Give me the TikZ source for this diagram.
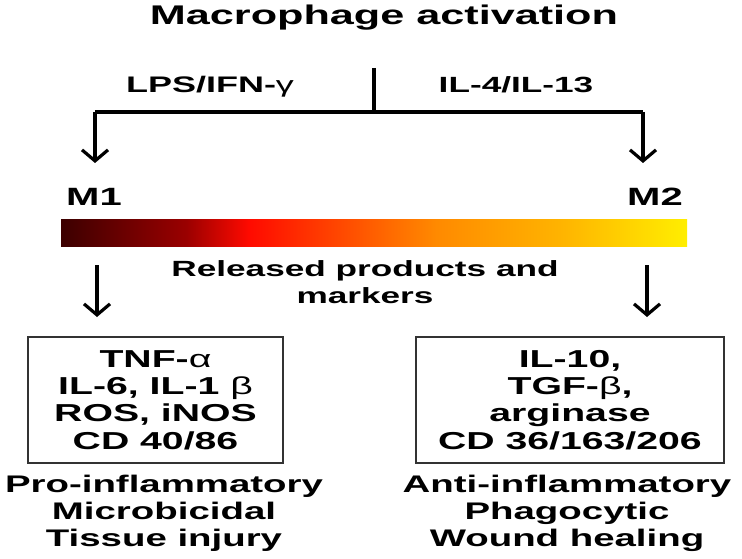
\documentclass[tikz,border=0pt]{standalone}
\usepackage{fontspec}
\setmainfont{Liberation Sans}[FakeStretch=1.6]
\usepackage{tikz}
\usetikzlibrary{arrows.meta}
\usetikzlibrary{positioning}
\definecolor{barA}{HTML}{3C0000}
\definecolor{barB}{HTML}{9A0000}
\definecolor{barC}{HTML}{FF0A00}
\definecolor{barD}{HTML}{FF4A00}
\definecolor{barE}{HTML}{FF8A00}
\definecolor{barF}{HTML}{FFB400}
\definecolor{barG}{HTML}{FFEE00}
\pgfdeclarehorizontalshading{mphbar}{100bp}{color(0bp)=(barA); color(25bp)=(barA);
  color(35bp)=(barB); color(40bp)=(barC); color(47.5bp)=(barD); color(55bp)=(barE);
  color(65bp)=(barF); color(75bp)=(barG); color(100bp)=(barG)}
\newcommand{\gk}[1]{{\mdseries #1}}
\begin{document}
\begin{tikzpicture}[x=1pt, y=-1pt]
\tikzstyle{txt}=[inner sep=0pt, align=center, font=\bfseries\fontsize{#1}{27}\selectfont];
\tikzstyle{arr}=[line width=3.2pt, -{Straight Barb[length=11pt, width=26pt, line width=3.2pt]}];
\tikzstyle{markbox}=[draw=black!80, line width=1.3pt, minimum height=126pt, inner sep=0pt,
                     align=center, font=\bfseries\fontsize{24.5}{27.3}\selectfont];
\useasboundingbox (0,0) rectangle (742,559);
\node[txt=27] (title) at (384,18) {Macrophage activation};
\node[txt=22.5] (lps) at (210,87) {LPS/IFN-\gk{γ}};
\node[txt=22] (ilfour) at (516,85) {IL-4/IL-13};
\coordinate (top) at (374,68);
\coordinate (fork) at (374,112);
\coordinate (forkl) at (95,112);
\coordinate (forkr) at (643,112);
\coordinate (tipl) at (95,163);
\coordinate (tipr) at (643,163);
\draw[line width=3.2pt] (top) -- (fork);
\draw[line width=3.2pt] (forkl) -- (forkr);
\foreach \s in {l,r}
{\draw[arr] (fork\s) -- (tip\s);}
\node[txt=25] (mone) at (94,197) {M1};
\node[txt=25] (mtwo) at (655,197) {M2};
\node[shade, shading=mphbar, minimum width=626pt, minimum height=27pt, inner sep=0pt] (bar) at (374,232.5) {};
\node[txt=22] (released) at (365,282) {Released products and\\markers};
\coordinate (outl) at (97,265);
\coordinate (outr) at (647,265);
\coordinate (inl) at (97,317);
\coordinate (inr) at (647,317);
\foreach \s in {l,r}
{\draw[arr] (out\s) -- (in\s);}
\node[markbox, minimum width=255pt] (mlbox) at (155.5,400) {TNF-\gk{α}\\IL-6, IL-1 \gk{β}\\ROS, iNOS\\CD 40/86};
\node[markbox, minimum width=308pt] (mrbox) at (570,400) {IL-10,\\TGF-\gk{β},\\arginase\\CD 36/163/206};
\node[txt=24] (mlfun) at (164,513) {Pro-inflammatory\\Microbicidal\\Tissue injury};
\node[txt=24] (mrfun) at (567,513) {Anti-inflammatory\\Phagocytic\\Wound healing};
\end{tikzpicture}
\end{document}
